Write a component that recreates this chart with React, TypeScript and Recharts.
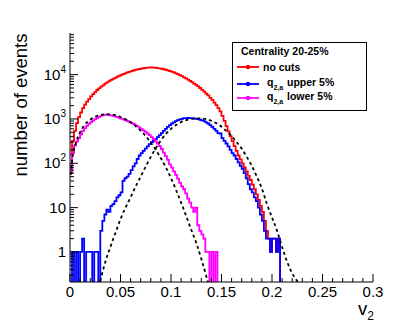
import { LineChart, Line, XAxis, YAxis } from "recharts";

// histogram bin width on the v2 axis
const BIN = 0.002;

// counts per bin, first bin starts at v2 = 0
const noCuts = [
  160, 320, 540, 810, 1100, 1400, 1750, 2100, 2450, 2800,
  3250, 3650, 4050, 4500, 4900, 5350, 5750, 6250, 6700, 7150,
  7600, 8050, 8500, 9000, 9450, 9900, 10350, 10700, 11200, 11600,
  12000, 12400, 12750, 13100, 13400, 13700, 13950, 14200, 14400, 14500,
  14500, 14450, 14300, 14100, 13850, 13600, 13250, 12900, 12500, 12100,
  11700, 11200, 10700, 10250, 9800, 9250, 8700, 8200, 7750, 7250,
  6750, 6300, 5900, 5450, 5000, 4550, 4150, 3750, 3400, 3000,
  2700, 2350, 2050, 1750, 1480, 1170, 910, 690, 525, 410,
  316, 245, 190, 150, 123, 100, 81, 66, 52, 42,
  33, 26, 20, 15, 11, 8, 5, 3, 2, 1,
  2, 2, 1, 2,
];

const upper5 = [
  0, 1, 0, 1, 0, 1, 2, 0, 1, 1,
  1, 0, 1, 1, 0, 3, 5, 7, 9, 8,
  11, 12, 14, 17, 19, 22, 40, 46, 50, 58,
  70, 85, 100, 125, 150, 170, 190, 215, 240, 270,
  300, 320, 350, 390, 430, 480, 540, 600, 660, 730,
  790, 840, 890, 940, 980, 1010, 1040, 1050, 1060, 1050,
  1040, 1030, 1010, 990, 960, 930, 890, 840, 790, 730,
  660, 600, 540, 480, 470, 370, 320, 280, 240, 200,
  170, 150, 125, 105, 88, 75, 60, 46, 34, 26,
  22, 17, 14, 10, 7, 5, 3, 2, 2, 1,
  2, 2, 1, 2,
];

const lower5 = [
  60, 170, 250, 310, 370, 450, 540, 620, 700, 780,
  850, 920, 990, 1050, 1110, 1170, 1220, 1250, 1240, 1220,
  1200, 1170, 1140, 1100, 1060, 1020, 980, 940, 900, 860,
  820, 780, 730, 690, 640, 590, 550, 510, 470, 430,
  390, 350, 310, 280, 245, 210, 175, 145, 120, 95,
  80, 66, 55, 45, 36, 30, 26, 21, 16, 13,
  10, 8, 10, 4, 3, 2.5, 2, 1, 1, 0,
  1, 0, 1,
];

// fitted curves (dashed)
const lowFitX = [
  0.001, 0.002, 0.004, 0.006, 0.008, 0.01, 0.015, 0.02, 0.025, 0.03,
  0.035, 0.04, 0.045, 0.05, 0.055, 0.06, 0.065, 0.07, 0.075, 0.08,
  0.085, 0.09, 0.095, 0.1, 0.105, 0.11, 0.115, 0.12, 0.125, 0.13,
  0.135, 0.14,
];
const lowFitY = [
  55, 110, 210, 300, 400, 500, 760, 960, 1120, 1230,
  1280, 1270, 1210, 1110, 980, 840, 690, 540, 410, 295,
  200, 130, 80, 46, 25, 13, 6.5, 3.2, 1.6, 0.7,
  0.28, 0.1,
];
const highFitX = [
  0.03, 0.035, 0.04, 0.045, 0.05, 0.055, 0.06, 0.065, 0.07, 0.075,
  0.08, 0.085, 0.09, 0.095, 0.1, 0.105, 0.11, 0.115, 0.12, 0.125,
  0.13, 0.135, 0.14, 0.145, 0.15, 0.155, 0.16, 0.165, 0.17, 0.175,
  0.18, 0.185, 0.19, 0.195, 0.2, 0.205, 0.21, 0.215, 0.22, 0.225,
  0.23,
];
const highFitY = [
  0.22, 0.6, 1.3, 2.7, 5.5, 10, 17, 30, 50, 85,
  140, 220, 330, 460, 600, 730, 850, 940, 1000, 1030,
  1030, 990, 910, 800, 670, 530, 410, 300, 215, 140,
  88, 50, 27, 12, 6, 3, 1.3, 0.6, 0.33, 0.22,
  0.15,
];

const xMajorTicks = [0, 0.05, 0.1, 0.15, 0.2, 0.25, 0.3];
const xMajorLabels = ["0", "0.05", "0.1", "0.15", "0.2", "0.25", "0.3"];
const yMajorTicks = [1, 10, 100, 1000, 10000];
const yMajorLabels = ["1", "10", "10|2", "10|3", "10|4"];

const X_DOMAIN: [number, number] = [0, 0.3];
const Y_DOMAIN: [number, number] = [0.21, 87000];
const EMPTY = 0.1; // below the axis, clipped away

const xTicks = Array.from({ length: 31 }, (_, i) => Math.round(i * 10) / 1000);
const yTicks: number[] = [];
[0.1, 1, 10, 100, 1000, 10000].forEach((d) => {
  for (let m = 1; m <= 9; m++) {
    const v = m * d;
    if (v >= Y_DOMAIN[0] && v <= Y_DOMAIN[1]) yTicks.push(v);
  }
});

function toSteps(counts: number[]) {
  const pts = counts.map((c, i) => ({ x: Math.round(i * BIN * 10000) / 10000, y: c > 0 ? c : EMPTY }));
  pts.push({ x: Math.round(counts.length * BIN * 10000) / 10000, y: EMPTY });
  return pts;
}

const zip = (xs: number[], ys: number[]) => xs.map((x, i) => ({ x, y: ys[i] }));

const redData = toSteps(noCuts);
const blueData = toSteps(upper5);
const magentaData = toSteps(lower5);
const lowFit = zip(lowFitX, lowFitY);
const highFit = zip(highFitX, highFitY);

const FONT = "'Liberation Sans', Arial, Helvetica, sans-serif";

const isXMajor = (v: number) => xMajorTicks.some((t) => Math.abs(t - v) < 1e-6);

function BottomTick(props: any) {
  const { x, y, payload } = props;
  const v = payload.value;
  const major = isXMajor(v);
  const idx = xMajorTicks.findIndex((t) => Math.abs(t - v) < 1e-6);
  return (
    <g>
      <line x1={x} y1={y} x2={x} y2={y - (major ? 8 : 4)} stroke="#000" />
      {major && (
        <text x={x} y={y + 15} textAnchor="middle" fontSize={15} fontFamily={FONT} fill="#000">
          {xMajorLabels[idx]}
        </text>
      )}
    </g>
  );
}

function TopTick(props: any) {
  const { x, y, payload } = props;
  const major = isXMajor(payload.value);
  return <line x1={x} y1={y} x2={x} y2={y + (major ? 8 : 4)} stroke="#000" />;
}

function LeftTick(props: any) {
  const { x, y, payload } = props;
  const v = payload.value;
  const idx = yMajorTicks.findIndex((t) => Math.abs(t - v) < 1e-6 * t);
  const major = idx >= 0;
  let label: any = null;
  if (major) {
    const [base, exp] = yMajorLabels[idx].split("|");
    label = (
      <text x={x - 4} y={y + 5} textAnchor="end" fontSize={15} fontFamily={FONT} fill="#000">
        {base}
        {exp && (
          <tspan dy={-7} fontSize={10}>
            {exp}
          </tspan>
        )}
      </text>
    );
  }
  return (
    <g>
      <line x1={x} y1={y} x2={x + (major ? 8 : 4)} y2={y} stroke="#000" />
      {label}
    </g>
  );
}

function RightTick(props: any) {
  const { x, y, payload } = props;
  const v = payload.value;
  const major = yMajorTicks.some((t) => Math.abs(t - v) < 1e-6 * t);
  return <line x1={x} y1={y} x2={x - (major ? 8 : 4)} y2={y} stroke="#000" />;
}

function LegendBox() {
  const entries = [
    { color: "#ff0000", y: 67, text: "no cuts", q: false },
    { color: "#0000ff", y: 84, text: "upper 5%", q: true },
    { color: "#ff00ff", y: 98, text: "lower 5%", q: true },
  ];
  return (
    <g fontFamily={FONT} fontWeight="bold" fill="#000">
      <rect x={232.5} y={42.5} width={134} height={68} fill="#fff" stroke="#000" strokeWidth={1} />
      <text x={241} y={54.5} fontSize={10.5}>
        Centrality 20-25%
      </text>
      {entries.map((e) => (
        <g key={e.text}>
          <line x1={237} y1={e.y} x2={259} y2={e.y} stroke={e.color} strokeWidth={1.8} />
          <circle cx={248} cy={e.y} r={2.2} fill={e.color} />
          {e.q ? (
            <>
              <text x={267} y={e.y + 2} fontSize={10.5}>
                q
                <tspan dy={4} fontSize={7}>
                  2,a
                </tspan>
              </text>
              <text x={287} y={e.y + 2} fontSize={10.5}>
                {e.text}
              </text>
            </>
          ) : (
            <text x={263} y={e.y + 4} fontSize={10.5}>
              {e.text}
            </text>
          )}
        </g>
      ))}
    </g>
  );
}

export default function App() {
  return (
    <div style={{ position: "absolute", left: 0, top: 0, width: 415, height: 332, background: "#fff" }}>
      <LineChart width={415} height={332} margin={{ top: 33, right: 42, bottom: 20, left: 30 }}>
        <XAxis
          xAxisId="bottom"
          type="number"
          dataKey="x"
          domain={X_DOMAIN}
          allowDataOverflow
          ticks={xTicks}
          interval={0}
          tick={<BottomTick />}
          tickLine={false}
          tickSize={0}
          tickMargin={0}
          height={30}
          axisLine={{ stroke: "#000" }}
        />
        <XAxis
          xAxisId="top"
          orientation="top"
          type="number"
          dataKey="x"
          domain={X_DOMAIN}
          allowDataOverflow
          ticks={xTicks}
          interval={0}
          tick={<TopTick />}
          tickLine={false}
          tickSize={0}
          tickMargin={0}
          height={0}
          axisLine={{ stroke: "#000" }}
        />
        <YAxis
          yAxisId="left"
          scale="log"
          type="number"
          domain={Y_DOMAIN}
          allowDataOverflow
          ticks={yTicks}
          interval={0}
          tick={<LeftTick />}
          tickLine={false}
          tickSize={0}
          tickMargin={0}
          width={40}
          axisLine={{ stroke: "#000" }}
        />
        <YAxis
          yAxisId="right"
          orientation="right"
          scale="log"
          type="number"
          domain={Y_DOMAIN}
          allowDataOverflow
          ticks={yTicks}
          interval={0}
          tick={<RightTick />}
          tickLine={false}
          tickSize={0}
          tickMargin={0}
          width={0}
          axisLine={{ stroke: "#000" }}
        />
        <Line xAxisId="bottom" yAxisId="left" data={redData} dataKey="y" type="stepAfter"
          stroke="#ff0000" strokeWidth={1.8} dot={false} activeDot={false} isAnimationActive={false} />
        <Line xAxisId="bottom" yAxisId="left" data={blueData} dataKey="y" type="stepAfter"
          stroke="#0000ff" strokeWidth={1.8} dot={false} activeDot={false} isAnimationActive={false} />
        <Line xAxisId="bottom" yAxisId="left" data={magentaData} dataKey="y" type="stepAfter"
          stroke="#ff00ff" strokeWidth={1.8} dot={false} activeDot={false} isAnimationActive={false} />
        <Line xAxisId="bottom" yAxisId="left" data={lowFit} dataKey="y" type="monotone"
          stroke="#000" strokeWidth={1.8} strokeDasharray="3 3" dot={false} activeDot={false} isAnimationActive={false} />
        <Line xAxisId="bottom" yAxisId="left" data={highFit} dataKey="y" type="monotone"
          stroke="#000" strokeWidth={1.8} strokeDasharray="3 3" dot={false} activeDot={false} isAnimationActive={false} />
      </LineChart>
      <svg width={415} height={332} style={{ position: "absolute", left: 0, top: 0, pointerEvents: "none" }}>
        <LegendBox />
        <text x={27} y={105} transform="rotate(-90 27 105)" textAnchor="middle" fontSize={18.5} fontFamily={FONT} fill="#000">
          number of events
        </text>
        <text x={358} y={315} fontSize={18.5} fontFamily={FONT} fill="#000">
          v
          <tspan dy={5} fontSize={12}>
            2
          </tspan>
        </text>
      </svg>
    </div>
  );
}
